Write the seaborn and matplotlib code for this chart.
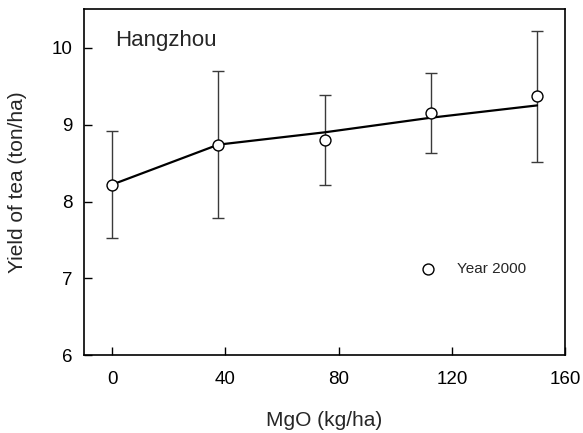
import matplotlib
matplotlib.use("Agg")
import matplotlib.pyplot as plt
import seaborn as sns
import pandas as pd

# MgO application rates and tea yields (Year 2000, Hangzhou)
mgo_rates = [0, 37.5, 75, 112.5, 150]
yield_mean = [8.22, 8.74, 8.80, 9.15, 9.37]
yield_err = [0.70, 0.96, 0.59, 0.52, 0.85]
fit_yield = [8.22, 8.74, 8.90, 9.09, 9.25]

x_ticks = [0, 40, 80, 120, 160]
y_ticks = [6, 7, 8, 9, 10]

sns.set_style("ticks")
plt.rcParams["font.family"] = ["Liberation Sans", "DejaVu Sans"]

df = pd.DataFrame({"MgO": mgo_rates, "Yield": yield_mean,
                   "Err": yield_err, "Fit": fit_yield})

fig = plt.figure(figsize=(5.83, 4.33), dpi=100)
ax = fig.add_axes([0.1436, 0.1794, 0.8261, 0.7991])

# error bars
ax.errorbar(df["MgO"], df["Yield"], yerr=df["Err"], fmt="none",
            ecolor="#3a3a3a", elinewidth=1.0, capsize=4.5, capthick=1.0,
            zorder=2)

# fitted response line
sns.lineplot(data=df, x="MgO", y="Fit", ax=ax, color="black",
             linewidth=1.6, zorder=3, legend=False)

# observed means
sns.scatterplot(data=df, x="MgO", y="Yield", ax=ax, marker="o", s=62,
                facecolor="white", edgecolor="black", linewidth=1.0,
                zorder=4, label="Year 2000")

ax.set_xlim(-10, 160)
ax.set_ylim(6, 10.5)
ax.set_xticks(x_ticks)
ax.set_yticks(y_ticks)
ax.tick_params(direction="in", length=6, width=1.0, labelsize=13.5,
               colors="black")
ax.tick_params(axis="x", pad=11)
ax.tick_params(axis="y", pad=8)
for s in ax.spines.values():
    s.set_visible(True)
    s.set_linewidth(1.2)
    s.set_color("black")

ax.set_xlabel("MgO (kg/ha)", fontsize=15)
ax.set_ylabel("Yield of tea (ton/ha)", fontsize=15)
ax.xaxis.set_label_coords(0.5, -0.187)
ax.xaxis.label.set_verticalalignment("center")
ax.yaxis.set_label_coords(-0.1385, 0.5)
ax.yaxis.label.set_verticalalignment("center")

ax.text(0.065, 0.911, "Hangzhou", transform=ax.transAxes, fontsize=16,
        ha="left", va="center")

leg = ax.legend(loc="center left", bbox_to_anchor=(0.700, 0.249),
                frameon=False, fontsize=11, borderpad=0, borderaxespad=0,
                handlelength=1.0, handletextpad=1.36)

fig.savefig("out.png", dpi=100)
